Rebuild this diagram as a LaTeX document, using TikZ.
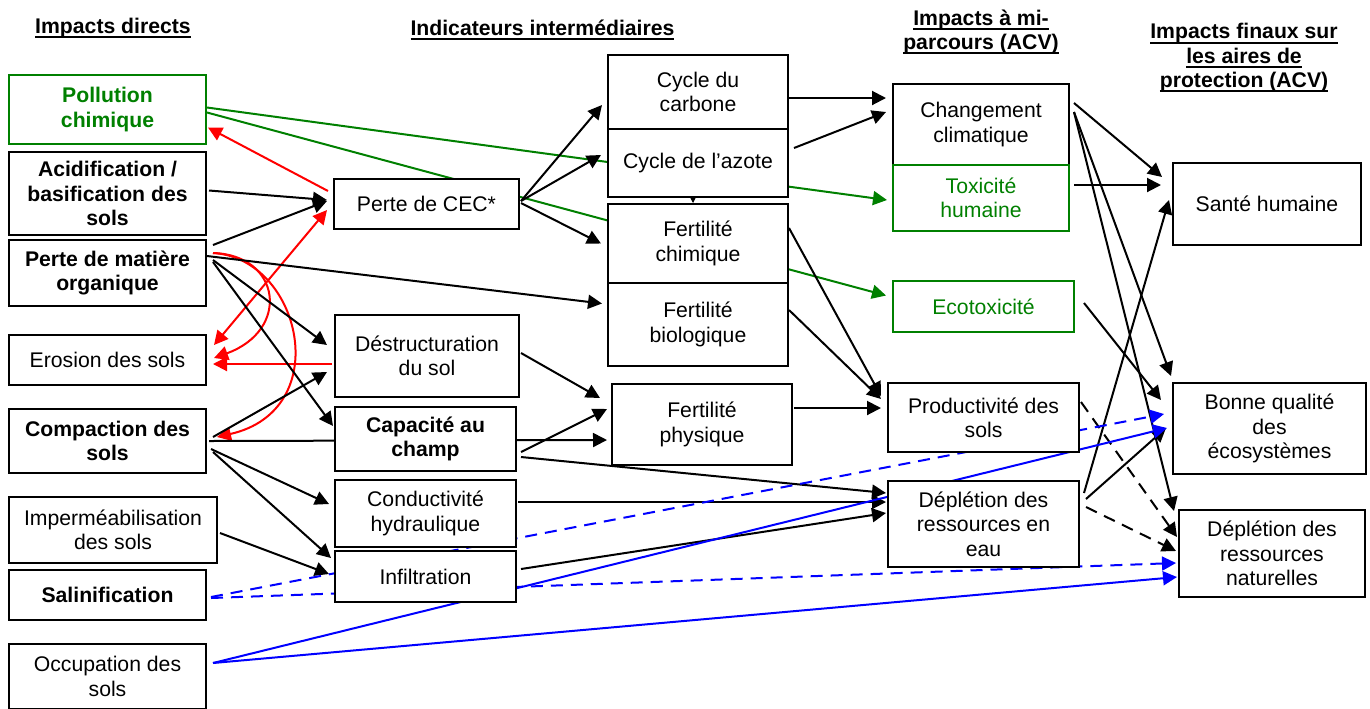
\documentclass[tikz,border=0pt]{standalone}
\usepackage{fontspec}
\setmainfont{Liberation Sans}
\usetikzlibrary{arrows.meta}
\pgfdeclarelayer{bg}
\pgfsetlayers{bg,main}
\definecolor{vert}{RGB}{0,128,0}
\newcommand{\souligne}[1]{\setbox0\hbox{#1}\leavevmode\rlap{\rule[-2.4pt]{\wd0}{1pt}}\box0}

\begin{document}
\begin{tikzpicture}[x=0.5pt,y=-0.5pt,>={Triangle[length=7pt,width=7pt]},
every node/.style={font=\fontsize{10.6}{12.2}\selectfont},
box/.style={shape=rectangle,draw=black,fill=white,align=center,line width=1pt,inner sep=1pt},
fat/.style={font=\fontsize{10.6}{12.2}\selectfont\bfseries},
vbox/.style={box,draw=vert,text=vert},
head/.style={align=center,font=\fontsize{10.6}{12.2}\selectfont\bfseries},
arr/.style={->,color=black,line width=1pt},
rarr/.style={arr,color=red},
garr/.style={arr,color=vert},
barr/.style={arr,color=blue},
pointille/.style={dash pattern=on 6pt off 4pt}]
\useasboundingbox (0,0) rectangle (1370,708);

\node[head] (h1) at (113,28) {\souligne{Impacts directs}};
\node[head] (h2) at (542.5,30) {\souligne{Indicateurs intermédiaires}};
\node[head] (h3) at (981,32) {\souligne{Impacts à mi-}\\\souligne{parcours (ACV)}};
\node[head] (h4) at (1244,58) {\souligne{Impacts finaux sur}\\\souligne{les aires de}\\\souligne{protection (ACV)}};

\node[vbox,fat,minimum width=98.5pt,minimum height=34.5pt] (poll) at (107.5,109.5) {Pollution\\chimique};
\node[box,fat,minimum width=98.5pt,minimum height=41.5pt] (acid) at (107.5,193.5) {Acidification /\\basification des\\sols};
\node[box,fat,minimum width=98.5pt,minimum height=33pt] (pmo) at (107.5,273) {Perte de matière\\organique};
\node[box,minimum width=98.5pt,minimum height=25pt] (eros) at (107.5,360) {Erosion des sols};
\node[box,fat,minimum width=98.5pt,minimum height=32pt] (comp) at (107.5,441) {Compaction des\\sols};
\node[box,minimum width=104pt,minimum height=33pt] (imper) at (113,530) {Imperméabilisation\\des sols};
\node[box,fat,minimum width=98.5pt,minimum height=25pt] (sali) at (107.5,595) {Salinification};
\node[box,minimum width=98.5pt,minimum height=32.5pt] (occup) at (107.5,676.5) {Occupation des\\sols};

\node[box,minimum width=92.5pt,minimum height=25pt] (cec) at (426.5,204) {Perte de CEC*};
\node[box,minimum width=92pt,minimum height=41pt] (destr) at (427,356) {Déstructuration\\du sol};
\node[box,fat,minimum width=90.5pt,minimum height=32pt] (capa) at (425.5,439) {Capacité au\\champ};
\node[box,minimum width=90.5pt,minimum height=33.5pt] (cond) at (425.5,513.5) {Conductivité\\hydraulique};
\node[box,minimum width=90.5pt,minimum height=25.5pt] (infil) at (425.5,576.5) {Infiltration};

\node[box,minimum width=90pt,minimum height=37pt] (carb) at (698,92) {Cycle du\\carbone};
\node[box,minimum width=90pt,minimum height=34pt] (azot) at (698,163) {Cycle de l’azote};
\node[box,minimum width=90pt,minimum height=39.5pt] (fchim) at (698,243.5) {Fertilité\\chimique};
\node[box,minimum width=90pt,minimum height=41.5pt] (fbio) at (698,324.5) {Fertilité\\biologique};
\node[box,minimum width=90pt,minimum height=40.5pt] (fphys) at (702,424.5) {Fertilité\\physique};

\node[box,minimum width=88pt,minimum height=40.5pt] (clim) at (981,124.5) {Changement\\climatique};
\node[vbox,minimum width=88pt,minimum height=33pt] (toxh) at (981,198) {Toxicité\\humaine};
\node[vbox,minimum width=90.5pt,minimum height=25.5pt] (ecot) at (983.5,306.5) {Ecotoxicité};
\node[box,minimum width=95.5pt,minimum height=34.5pt] (prod) at (983.5,417.5) {Productivité des\\sols};
\node[box,minimum width=95.5pt,minimum height=43pt] (deau) at (983.5,524) {Déplétion des\\ressources en\\eau};

\node[box,minimum width=94pt,minimum height=41pt] (sante) at (1267,204) {Santé humaine};
\node[box,minimum width=96.5pt,minimum height=45.5pt] (bonne) at (1269.5,428.5) {Bonne qualité\\des\\écosystèmes};
\node[box,minimum width=93pt,minimum height=43.5pt] (depl) at (1272,553.5) {Déplétion des\\ressources\\naturelles};

\begin{pgfonlayer}{bg}
\path[garr] ([shift={(0,-2)}]poll.east) edge ([shift={(-5,2)}]toxh.west);
\path[garr] ([shift={(0,3)}]poll.east) edge ([shift={(-6,-11)}]ecot.west);

\path[rarr] ([shift={(-5,-13)}]cec.west) edge ([shift={(1,18)}]poll.east);
\path[rarr,<->] ([shift={(7,-15)}]eros.east) edge ([shift={(-6,6)}]cec.west);
\path[rarr] ([shift={(-2,8)}]destr.west) edge ([shift={(6,4)}]eros.east);
\draw[rarr] ([shift={(6,-20)}]pmo.east) .. controls +(68,2) and +(77,-28) .. ([shift={(7,-2)}]eros.east);
\draw[rarr] ([shift={(6,-20)}]pmo.east) .. controls +(88,5) and +(119,-27) .. ([shift={(10,-4)}]comp.east);

\path[arr] ([shift={(2,-3)}]acid.east) edge ([shift={(-6,-4)}]cec.west);
\path[arr] ([shift={(6,-28)}]pmo.east) edge ([shift={(-6,-3)}]cec.west);
\path[arr] ([shift={(0,-17)}]pmo.east) edge ([shift={(-5,-21)}]fbio.west);
\path[arr] ([shift={(6,-13)}]pmo.east) edge ([shift={(-7,-11)}]destr.west);
\path[arr] ([shift={(6,-11)}]pmo.east) edge ([shift={(-1,-13)}]capa.west);
\path[arr] ([shift={(6,-4)}]comp.east) edge ([shift={(-7,16)}]destr.west);
\path[arr] ([shift={(2,0)}]comp.east) edge ([shift={(-4,15.5)}]fphys.west);
\path[arr] ([shift={(4,8)}]comp.east) edge ([shift={(-5,-9.5)}]cond.west);
\path[arr] ([shift={(6,11)}]comp.east) edge ([shift={(-3,-18.5)}]infil.west);
\path[arr] ([shift={(2,3)}]imper.east) edge ([shift={(-5,-2.5)}]infil.west);

\path[arr] ([shift={(1,-3)}]cec.east) edge ([shift={(-5,13)}]carb.west);
\path[arr] ([shift={(1,-3)}]cec.east) edge ([shift={(-6,-8)}]azot.west);
\path[arr] ([shift={(1,-1)}]cec.east) edge ([shift={(-6,0)}]fchim.west);
\path[arr] ([shift={(1,-3)}]destr.east) edge ([shift={(-11,-26.5)}]fphys.west);
\path[arr] ([shift={(4,13)}]capa.east) edge ([shift={(-4,-15.5)}]fphys.west);
\path[arr] ([shift={(4,18)}]capa.east) edge ([shift={(-1,-31)}]deau.west);
\path[arr] ([shift={(1,-11.5)}]cond.east) edge ([shift={(-1,-22)}]deau.west);
\path[arr] ([shift={(4,-7.5)}]infil.east) edge ([shift={(-1,-11)}]deau.west);

\path[arr] ([shift={(1,-16.5)}]fphys.east) edge ([shift={(-6,-9.5)}]prod.west);
\path[arr] ([shift={(0,6)}]carb.east) edge ([shift={(-6,-26.5)}]clim.west);
\path[arr] ([shift={(5,-15)}]azot.east) edge ([shift={(-6,-12.5)}]clim.west);
\path[arr] ([shift={(0,-15.5)}]fchim.east) edge ([shift={(-6,-21.5)}]prod.west);
\path[arr] ([shift={(0,-14.5)}]fbio.east) edge ([shift={(-6,-18.5)}]prod.west);
\path[arr,-{Triangle[length=3pt,width=3pt]},line width=0.5pt] ([shift={(-5,0)}]azot.south) edge ([shift={(-5,0)}]fchim.north);

\path[arr] ([shift={(4,-21.5)}]clim.east) edge ([shift={(-10,-27)}]sante.west);
\path[arr] ([shift={(4,-13)}]toxh.east) edge ([shift={(-11,-19)}]sante.west);
\path[arr] ([shift={(4,-12.5)}]clim.east) edge ([shift={(-1,-6)}]bonne.north west);
\path[arr] ([shift={(4,-12.5)}]clim.east) edge ([shift={(-4,2)}]depl.north west);
\path[arr] ([shift={(9,-3.5)}]ecot.east) edge ([shift={(-11,-28.5)}]bonne.west);
\path[arr] ([shift={(4,-31)}]deau.east) edge ([shift={(-3,-4)}]sante.west);
\path[arr] ([shift={(6,-25)}]deau.east) edge ([shift={(-6,-0.5)}]bonne.west);
\path[arr,pointille] ([shift={(6,-17)}]deau.east) edge ([shift={(-2,-2.5)}]depl.west);
\path[arr,pointille] ([shift={(1,-15.5)}]prod.east) edge ([shift={(-1,-16.5)}]depl.west);

\path[barr,pointille] ([shift={(4,2)}]sali.east) edge ([shift={(-8,-14.5)}]bonne.west);
\path[barr,pointille] ([shift={(4,3)}]sali.east) edge ([shift={(-2,9.5)}]depl.west);
\path[barr] ([shift={(6,-13.5)}]occup.east) edge ([shift={(-5,-0.5)}]bonne.west);
\path[barr] ([shift={(6,-13.5)}]occup.east) edge ([shift={(-1,23.5)}]depl.west);
\end{pgfonlayer}
\end{tikzpicture}
\end{document}
